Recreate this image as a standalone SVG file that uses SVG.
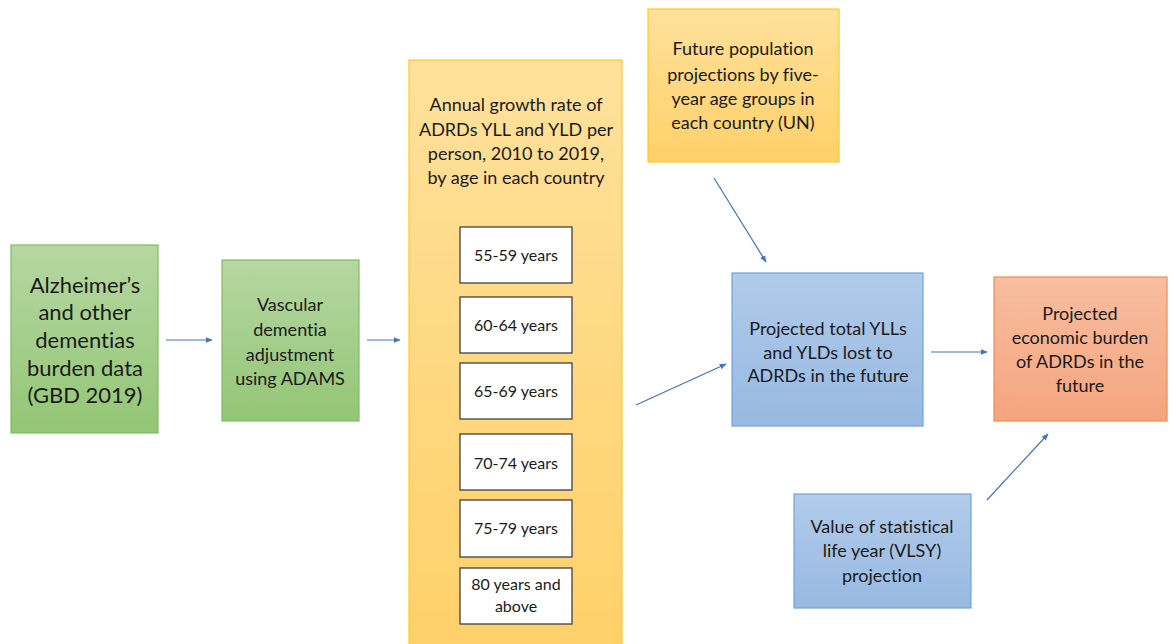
<svg xmlns="http://www.w3.org/2000/svg" width="1172" height="644" viewBox="0 0 1172 644">
<defs>
<linearGradient id="gG" x1="0" y1="0" x2="0" y2="1"><stop offset="0" stop-color="#b6d7a2"/><stop offset="1" stop-color="#93c675"/></linearGradient>
<linearGradient id="gY" x1="0" y1="0" x2="0" y2="1"><stop offset="0" stop-color="#fee19c"/><stop offset="1" stop-color="#fed068"/></linearGradient>
<linearGradient id="gB" x1="0" y1="0" x2="0" y2="1"><stop offset="0" stop-color="#b1cbea"/><stop offset="1" stop-color="#97b9e1"/></linearGradient>
<linearGradient id="gO" x1="0" y1="0" x2="0" y2="1"><stop offset="0" stop-color="#f7bea0"/><stop offset="1" stop-color="#f5a47e"/></linearGradient>
<marker id="ah" viewBox="0 0 10 10" refX="9" refY="5" markerWidth="7" markerHeight="7" orient="auto" markerUnits="userSpaceOnUse"><path d="M0,1 L10,5 L0,9 z" fill="#4472c4"/></marker>
</defs>
<style>
text{font-family:Lato,"Open Sans","Liberation Sans",sans-serif;fill:#1a1a1a;text-anchor:middle;font-variant-ligatures:none}
.g{fill:url(#gG);stroke:#7fbf5a;stroke-width:1.2}
.y{fill:url(#gY);stroke:#ffc926;stroke-width:1.2}
.b{fill:url(#gB);stroke:#6fa3dc;stroke-width:1.2}
.o{fill:url(#gO);stroke:#f08a50;stroke-width:1.2}
.w{fill:#ffffff;stroke:#404040;stroke-width:1.3}
.t22{font-size:22px}
.t18{font-size:18px}
.t15{font-size:16px}
.c{stroke:#4472c4;stroke-width:1.2;fill:none;marker-end:url(#ah)}
</style>
<rect width="1172" height="644" fill="#ffffff"/>
<g id="n-alz">
<rect class="g" x="11" y="245" width="147" height="188"/>
<text class="t22" x="85" y="293">Alzheimer’s</text>
<text class="t22" x="85" y="320">and other</text>
<text class="t22" x="85" y="348">dementias</text>
<text class="t22" x="85" y="376">burden data</text>
<text class="t22" x="85" y="403">(GBD 2019)</text>
</g>
<g id="n-vasc">
<rect class="g" x="222" y="260" width="137" height="161"/>
<text class="t18" x="290" y="311">Vascular</text>
<text class="t18" x="290" y="336">dementia</text>
<text class="t18" x="290" y="361">adjustment</text>
<text class="t18" x="290" y="385">using ADAMS</text>
</g>
<g id="n-growth">
<rect class="y" x="409" y="60" width="213" height="600"/>
<text class="t18" x="516" y="111">Annual growth rate of</text>
<text class="t18" x="516" y="136">ADRDs YLL and YLD per</text>
<text class="t18" x="516" y="160">person, 2010 to 2019,</text>
<text class="t18" x="516" y="184">by age in each country</text>
</g>
<g id="n-a55"><rect class="w" x="460" y="227" width="112" height="56"/><text class="t15" x="516" y="261">55-59 years</text></g>
<g id="n-a60"><rect class="w" x="460" y="297" width="112" height="56"/><text class="t15" x="516" y="331">60-64 years</text></g>
<g id="n-a65"><rect class="w" x="460" y="363" width="112" height="56"/><text class="t15" x="516" y="397">65-69 years</text></g>
<g id="n-a70"><rect class="w" x="460" y="434" width="112" height="56"/><text class="t15" x="516" y="469">70-74 years</text></g>
<g id="n-a75"><rect class="w" x="460" y="500" width="112" height="57"/><text class="t15" x="516" y="534">75-79 years</text></g>
<g id="n-a80"><rect class="w" x="460" y="568" width="112" height="56"/><text class="t15" x="516" y="590">80 years and</text><text class="t15" x="516" y="612">above</text></g>
<g id="n-pop">
<rect class="y" x="648" y="9" width="191" height="153"/>
<text class="t18" x="743" y="55">Future population</text>
<text class="t18" x="743" y="81">projections by five-</text>
<text class="t18" x="743" y="105">year age groups in</text>
<text class="t18" x="743" y="129">each country (UN)</text>
</g>
<g id="n-proj">
<rect class="b" x="732" y="273" width="191" height="153"/>
<text class="t18" x="828" y="335">Projected total YLLs</text>
<text class="t18" x="828" y="359">and YLDs lost to</text>
<text class="t18" x="828" y="382">ADRDs in the future</text>
</g>
<g id="n-econ">
<rect class="o" x="994" y="277" width="173" height="144"/>
<text class="t18" x="1080" y="320">Projected</text>
<text class="t18" x="1080" y="344">economic burden</text>
<text class="t18" x="1080" y="368">of ADRDs in the</text>
<text class="t18" x="1080" y="392">future</text>
</g>
<g id="n-vlsy">
<rect class="b" x="794" y="494" width="177" height="114"/>
<text class="t18" x="882" y="533">Value of statistical</text>
<text class="t18" x="882" y="557">life year (VLSY)</text>
<text class="t18" x="882" y="582">projection</text>
</g>
<g id="connectors">
<line class="c" x1="166" y1="340" x2="212" y2="340"/>
<line class="c" x1="367" y1="340" x2="400" y2="340"/>
<line class="c" x1="714" y1="178" x2="766" y2="262"/>
<line class="c" x1="636" y1="405" x2="726" y2="364"/>
<line class="c" x1="931" y1="352" x2="987" y2="352"/>
<line class="c" x1="987" y1="500" x2="1048" y2="434"/>
</g>
</svg>
